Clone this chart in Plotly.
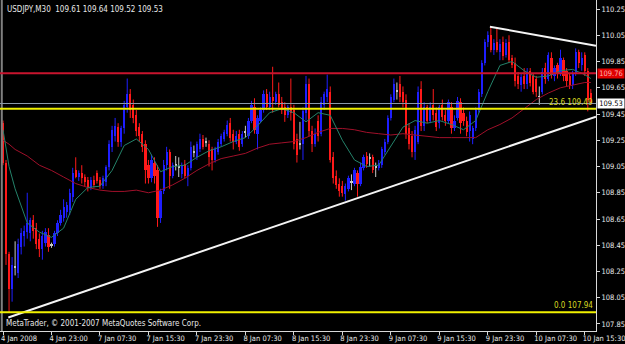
import plotly.graph_objects as go

# ---------------- data (USDJPY M30, bar index 0 = 4 Jan 2008 15:00) ----------------
opens = [
    109.38,109.08,108.38,108.12,108.28,108.24,108.44,108.52,108.55,108.54,
    108.64,108.58,108.50,108.42,108.47,108.53,108.45,108.46,108.54,108.62,
    108.66,108.70,108.72,108.82,109.02,108.97,109.00,108.97,108.95,108.89,
    108.95,109.00,108.95,108.90,108.93,109.05,109.20,109.28,109.35,109.24,
    109.34,109.50,109.60,109.52,109.44,109.35,109.30,109.22,109.06,108.96,
    109.08,109.02,108.66,108.86,109.06,109.16,108.98,109.06,109.04,108.99,
    109.07,108.98,109.04,109.16,109.12,109.18,109.26,109.23,109.22,109.18,
    109.10,109.16,109.22,109.26,109.30,109.38,109.30,109.24,109.30,109.22,
    109.31,109.28,109.40,109.50,109.30,109.40,109.48,109.60,109.50,109.58,
    109.54,109.60,109.54,109.50,109.44,109.50,109.48,109.26,109.22,109.22,
    109.46,109.68,109.32,109.22,109.40,109.30,109.52,109.58,109.62,109.12,
    108.98,108.92,108.90,108.84,108.88,108.93,108.92,109.00,108.92,109.04,
    109.13,109.11,109.12,109.04,109.04,109.06,109.16,109.24,109.42,109.56,
    109.62,109.68,109.62,109.56,109.34,109.28,109.16,109.24,109.64,109.36,
    109.50,109.40,109.52,109.46,109.38,109.52,109.44,109.40,109.50,109.34,
    109.42,109.54,109.46,109.40,109.32,109.26,109.34,109.48,109.60,109.84,
    110.00,110.05,109.94,110.00,109.92,110.00,109.90,110.00,109.88,109.84,
    109.74,109.67,109.74,109.68,109.78,109.74,109.72,109.58,109.62,109.80,
    109.72,109.88,109.74,109.82,109.76,109.86,109.78,109.74,109.67,109.76,
    109.92,109.82,109.90,109.78,109.61,
]
highs = [
    109.40,109.10,108.40,108.36,108.48,108.50,108.58,108.60,108.85,108.66,
    108.68,108.62,108.54,108.56,108.58,108.58,108.47,108.56,108.64,108.72,
    108.80,108.78,108.88,109.04,109.12,109.02,109.06,108.99,108.97,108.97,
    108.98,109.02,108.97,108.98,109.06,109.25,109.36,109.42,109.38,109.36,
    109.55,109.72,109.64,109.56,109.48,109.38,109.32,109.25,109.10,109.14,
    109.12,109.06,108.88,109.10,109.20,109.18,109.08,109.13,109.12,109.08,
    109.10,109.06,109.24,109.21,109.24,109.30,109.29,109.27,109.25,109.20,
    109.20,109.26,109.30,109.33,109.40,109.42,109.33,109.32,109.33,109.32,
    109.36,109.42,109.55,109.57,109.44,109.50,109.63,109.64,109.62,109.81,
    109.62,109.69,109.58,109.54,109.52,109.72,109.52,109.30,109.39,109.50,
    109.74,109.72,109.36,109.34,109.44,109.58,109.62,109.75,109.66,109.16,
    109.02,108.96,108.94,108.92,108.98,108.99,109.04,109.02,109.08,109.14,
    109.16,109.15,109.14,109.08,109.10,109.20,109.26,109.44,109.60,109.72,
    109.69,109.74,109.66,109.60,109.38,109.32,109.36,109.66,109.70,109.54,
    109.52,109.54,109.64,109.50,109.52,109.56,109.48,109.56,109.54,109.44,
    109.58,109.57,109.50,109.43,109.47,109.36,109.50,109.64,109.86,110.02,
    110.08,110.12,110.02,110.10,110.02,110.04,110.02,110.05,109.90,109.88,
    109.77,109.76,109.80,109.80,109.80,109.76,109.74,109.66,109.80,109.84,
    109.92,109.92,109.82,109.84,109.94,109.88,109.80,109.76,109.78,109.95,
    109.94,109.92,109.92,109.80,109.64,
]
lows = [
    109.06,108.30,107.94,108.02,108.22,108.20,108.38,108.44,108.50,108.48,
    108.50,108.42,108.36,108.34,108.44,108.40,108.43,108.44,108.52,108.60,
    108.63,108.66,108.68,108.78,108.96,108.94,108.92,108.90,108.86,108.87,
    108.89,108.92,108.88,108.88,108.90,109.02,109.16,109.24,109.20,109.20,
    109.30,109.46,109.42,109.38,109.28,109.24,109.16,108.92,108.92,108.93,
    108.92,108.59,108.62,108.84,109.02,108.88,108.96,109.02,108.97,108.96,
    108.96,108.90,109.02,109.12,109.10,109.16,109.18,109.20,109.05,109.02,
    109.08,109.14,109.20,109.24,109.28,109.24,109.18,109.22,109.17,109.20,
    109.27,109.26,109.38,109.30,109.18,109.38,109.46,109.48,109.48,109.46,
    109.52,109.50,109.45,109.39,109.42,109.40,109.18,109.08,109.18,109.10,
    109.40,109.28,109.16,109.20,109.24,109.28,109.48,109.54,109.08,108.92,
    108.88,108.82,108.82,108.79,108.86,108.87,108.90,108.82,108.90,109.02,
    109.04,109.05,109.00,108.97,109.02,109.04,109.14,109.22,109.40,109.54,
    109.56,109.54,109.50,109.26,109.18,109.12,109.10,109.22,109.32,109.32,
    109.38,109.38,109.40,109.32,109.34,109.40,109.36,109.38,109.30,109.32,
    109.40,109.30,109.36,109.28,109.24,109.22,109.32,109.46,109.58,109.82,
    109.96,109.92,109.90,109.92,109.86,109.86,109.88,109.84,109.80,109.66,
    109.64,109.62,109.64,109.64,109.66,109.60,109.58,109.52,109.60,109.68,
    109.70,109.72,109.70,109.72,109.74,109.70,109.66,109.64,109.64,109.74,
    109.80,109.78,109.74,109.47,109.52,
]
closes = [
    109.08,108.38,108.12,108.30,108.28,108.46,108.54,108.56,108.62,108.64,
    108.56,108.46,108.42,108.52,108.55,108.44,108.45,108.54,108.62,108.68,
    108.74,108.76,108.85,109.00,108.97,109.00,108.96,108.93,108.89,108.95,
    108.91,108.94,108.90,108.96,109.05,109.22,109.33,109.36,109.24,109.34,
    109.52,109.60,109.48,109.42,109.32,109.28,109.20,109.02,108.96,109.10,
    108.98,108.66,108.86,109.06,109.16,108.98,109.06,109.06,109.04,109.06,
    108.98,109.04,109.20,109.16,109.22,109.26,109.20,109.23,109.12,109.10,
    109.18,109.24,109.28,109.31,109.37,109.27,109.24,109.28,109.20,109.30,
    109.31,109.40,109.52,109.33,109.42,109.48,109.60,109.50,109.58,109.55,
    109.60,109.52,109.48,109.44,109.50,109.46,109.22,109.14,109.22,109.47,
    109.68,109.32,109.22,109.30,109.28,109.54,109.60,109.64,109.10,108.96,
    108.91,108.86,108.85,108.90,108.96,108.93,109.02,108.92,109.05,109.12,
    109.07,109.11,109.02,109.04,109.08,109.18,109.24,109.42,109.58,109.68,
    109.62,109.58,109.54,109.30,109.22,109.16,109.33,109.62,109.36,109.50,
    109.40,109.50,109.44,109.35,109.50,109.43,109.40,109.54,109.34,109.40,
    109.55,109.38,109.40,109.31,109.44,109.34,109.48,109.62,109.84,110.00,
    110.05,109.94,109.99,109.94,109.98,109.89,109.99,109.86,109.82,109.70,
    109.68,109.73,109.68,109.77,109.69,109.62,109.62,109.58,109.77,109.72,
    109.90,109.75,109.80,109.76,109.88,109.74,109.70,109.67,109.76,109.92,
    109.84,109.88,109.78,109.56,109.53,
]

tick_bars = [0, 16, 32, 48, 64, 80, 96, 112, 128, 144, 160, 176, 192]
tick_labels = ["4 Jan 2008", "4 Jan 23:00", "7 Jan 07:30", "7 Jan 15:30", "7 Jan 23:30",
               "8 Jan 07:30", "8 Jan 15:30", "8 Jan 23:30", "9 Jan 07:30", "9 Jan 15:30",
               "9 Jan 23:30", "10 Jan 07:30", "10 Jan 15:30"]
price_ticks = [107.85, 108.05, 108.25, 108.45, 108.65, 108.85, 109.05,
               109.25, 109.45, 109.65, 109.85, 110.05, 110.25]

ma_bars = [0, 2, 4, 8, 12, 16, 20, 24, 28, 32, 36, 40, 44, 48, 52, 56, 60, 64, 68, 72,
           76, 80, 84, 88, 92, 96, 100, 104, 108, 112, 116, 120, 124, 128, 132, 136,
           140, 144, 148, 152, 156, 160, 164, 168, 172, 176, 180, 184, 188, 192, 194]
ma_fast = [109.33, 109.05, 108.88, 108.62, 108.55, 108.51, 108.58, 108.80, 108.89, 108.90,
           109.02, 109.21, 109.26, 109.18, 109.01, 109.05, 109.06, 109.12, 109.17, 109.20,
           109.24, 109.27, 109.36, 109.46, 109.49, 109.46, 109.39, 109.46, 109.44, 109.25,
           109.10, 109.05, 109.06, 109.20, 109.35, 109.40, 109.38, 109.40, 109.37, 109.33,
           109.40, 109.62, 109.82, 109.85, 109.78, 109.73, 109.74, 109.78, 109.79, 109.75,
           109.72]
ma_slow = [109.25, 109.22, 109.18, 109.13, 109.06, 109.02, 108.97, 108.92, 108.89, 108.87,
           108.86, 108.86, 108.87, 108.85, 108.87, 108.91, 108.96, 109.02, 109.07, 109.11,
           109.13, 109.15, 109.19, 109.22, 109.23, 109.24, 109.27, 109.31, 109.34, 109.34,
           109.33, 109.31, 109.30, 109.29, 109.30, 109.29, 109.28, 109.27, 109.27, 109.27,
           109.27, 109.33, 109.37, 109.42, 109.49, 109.56, 109.61, 109.65, 109.67, 109.69,
           109.69]

level_line = 109.76
bid_price = 109.53
fib_prices = [109.49, 107.94]
fib_names = ["23.6", "0.0"]
trend_up_bars = [1.75, 195.7]
trend_up_prices = [107.90, 109.43]
trend_dn_bars = [160.7, 195.7]
trend_dn_prices = [110.115, 109.97]
header = "USDJPY,M30\u00a0\u00a0109.61 109.64 109.52 109.53"
footer = "MetaTrader, \u00a9 2001-2007 MetaQuotes Software Corp."

assert len(opens) == len(highs) == len(lows) == len(closes)

# ---------------- styling ----------------
FONT = "Liberation Sans Narrow, Arial Narrow, DejaVu Sans Condensed, Liberation Sans, sans-serif"
UP = "#1f1fff"
DN = "#ff1a1a"
DJ = "#c8c8c8"
TXT = "#e8e8e8"

N = len(closes)
idx = list(range(N))
colors, bases, heights = [], [], []
for o, c in zip(opens, closes):
    colors.append(UP if c > o else (DN if c < o else DJ))
    bases.append(min(o, c))
    heights.append(max(abs(c - o), 0.007))

fig = go.Figure()

# candle shadows
for col in (UP, DN, DJ):
    xs, ys = [], []
    for i in idx:
        if colors[i] == col:
            xs += [i, i, None]
            ys += [lows[i], highs[i], None]
    fig.add_trace(go.Scatter(x=xs, y=ys, mode="lines", line=dict(color=col, width=1),
                             hoverinfo="skip", showlegend=False))

# candle bodies
fig.add_trace(go.Bar(x=idx, y=heights, base=bases, width=0.72,
                     marker=dict(color=colors, line=dict(width=0)),
                     hoverinfo="skip", showlegend=False))

# moving averages
fig.add_trace(go.Scatter(x=ma_bars, y=ma_slow, mode="lines", line=dict(color="#a0102a", width=1),
                         hoverinfo="skip", showlegend=False))
fig.add_trace(go.Scatter(x=ma_bars, y=ma_fast, mode="lines", line=dict(color="#24826a", width=1),
                         hoverinfo="skip", showlegend=False))

# trend lines
fig.add_trace(go.Scatter(x=trend_up_bars, y=trend_up_prices, mode="lines",
                         line=dict(color="#f4f4f4", width=2), hoverinfo="skip", showlegend=False))
fig.add_trace(go.Scatter(x=trend_dn_bars, y=trend_dn_prices, mode="lines",
                         line=dict(color="#f4f4f4", width=2), hoverinfo="skip", showlegend=False))

shapes = [
    dict(type="line", xref="paper", yref="paper", x0=0.003, x1=0.003, y0=0, y1=1,
         line=dict(color="#808080", width=2)),
    dict(type="line", xref="paper", yref="y", x0=0, x1=1, y0=level_line, y1=level_line,
         line=dict(color="#c8142e", width=2)),
    dict(type="line", xref="paper", yref="y", x0=0, x1=1, y0=bid_price, y1=bid_price,
         line=dict(color="#8a98a8", width=1)),
]
for p in fib_prices:
    shapes.append(dict(type="line", xref="paper", yref="y", x0=0, x1=1, y0=p, y1=p,
                       line=dict(color="#f0f000", width=2)))

annotations = [
    dict(text=header, xref="paper", yref="paper", x=0.008, y=1, xanchor="left", yanchor="top",
         yshift=-3, showarrow=False, font=dict(family=FONT, size=8, color=TXT)),
    dict(text=footer, xref="paper", yref="paper", x=0.006, y=0, xanchor="left", yanchor="bottom",
         yshift=1, showarrow=False, font=dict(family=FONT, size=8, color=TXT)),
    dict(text=f"{level_line:.2f}", xref="paper", yref="y", x=1, y=level_line, xanchor="left",
         yanchor="middle", xshift=1, showarrow=False, bgcolor="#e00000", width=26, height=9,
         borderpad=0, font=dict(family=FONT, size=7.5, color="#ffb0b0")),
    dict(text=f"{bid_price:.2f}", xref="paper", yref="y", x=1, y=bid_price, xanchor="left",
         yanchor="middle", xshift=1, showarrow=False, bgcolor="#ffffff", width=26, height=9,
         borderpad=0, font=dict(family=FONT, size=7.5, color="#000000")),
]
for p, n in zip(fib_prices, fib_names):
    annotations.append(dict(text=f"{n} {p:.2f}", xref="paper", yref="y", x=1, y=p,
                            xanchor="right", yanchor="bottom", xshift=-1, yshift=0,
                            showarrow=False, font=dict(family=FONT, size=8, color="#d8d820")))

fig.update_layout(
    width=625, height=344,
    margin=dict(l=0, r=29, t=0, b=13, pad=0),
    paper_bgcolor="#000000", plot_bgcolor="#000000",
    showlegend=False, bargap=0, hovermode=False,
    shapes=shapes, annotations=annotations,
    xaxis=dict(range=[-0.99, 195.71], showgrid=False, zeroline=False, showline=True,
               linecolor="#d8d8d8", linewidth=1, ticks="outside", ticklen=3, tickcolor="#d8d8d8",
               tickvals=tick_bars, ticktext=tick_labels, ticklabelposition="outside right",
               ticklabeloverflow="allow", ticklabelshift=-3, tickangle=0, automargin=False,
               tickfont=dict(family=FONT, size=7.5, color=TXT), fixedrange=True),
    yaxis=dict(range=[107.7966, 110.3186], side="right", showgrid=False, zeroline=False,
               showline=True, linecolor="#d8d8d8", linewidth=1, ticks="outside", ticklen=3,
               tickcolor="#d8d8d8", tickvals=price_ticks, automargin=False,
               ticklabeloverflow="allow",
               ticktext=[f"{v:.2f}" for v in price_ticks],
               tickfont=dict(family=FONT, size=7.5, color=TXT), fixedrange=True),
)

fig.write_html("out.html")
